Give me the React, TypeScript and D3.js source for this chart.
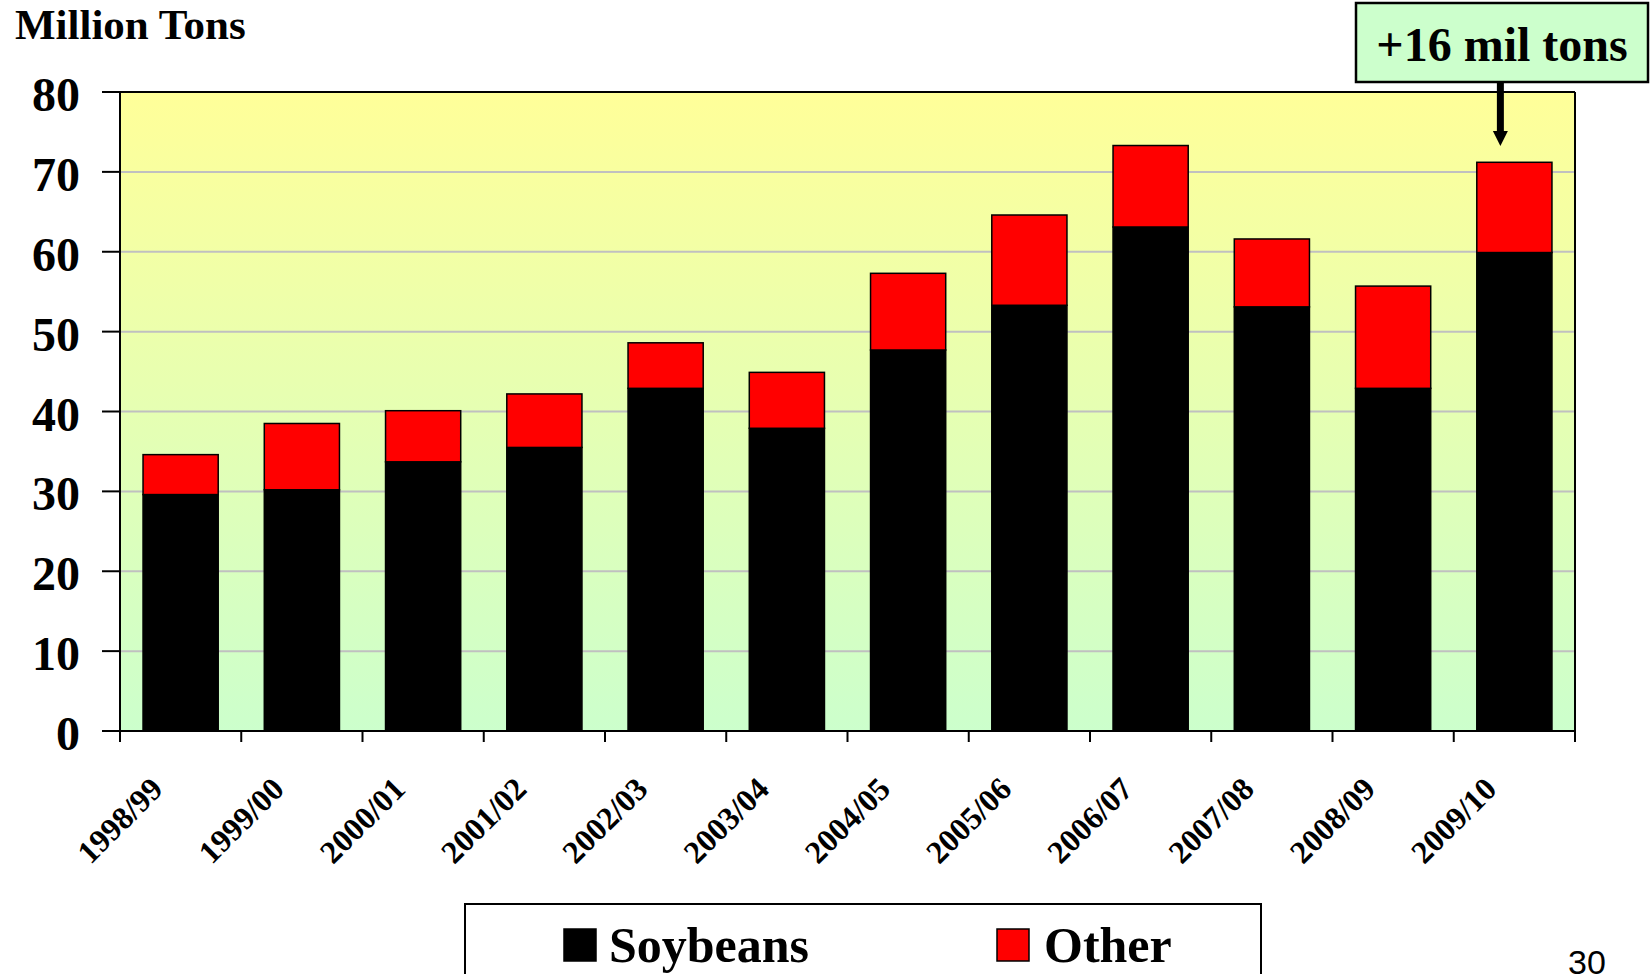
import { scaleBand, scaleLinear, range } from "d3";

const seasons = [
  "1998/99", "1999/00", "2000/01", "2001/02", "2002/03", "2003/04",
  "2004/05", "2005/06", "2006/07", "2007/08", "2008/09", "2009/10",
];
const soybeans = [29.6, 30.2, 33.7, 35.5, 42.9, 37.9, 47.7, 53.3, 63.1, 53.1, 42.9, 59.9];
const other = [5.0, 8.3, 6.4, 6.7, 5.7, 7.0, 9.6, 11.3, 10.2, 8.5, 12.8, 11.3];
const yTicks = [0, 10, 20, 30, 40, 50, 60, 70, 80];

const W = 1651;
const H = 974;
const left = 120, right = 1575, top = 92, bottom = 731;
const serif = "'Liberation Serif', 'Times New Roman', serif";

export default function App() {
  const x = scaleBand<string>().domain(seasons).range([left, right]).paddingInner(0.38).paddingOuter(0.19);
  const y = scaleLinear().domain([0, 80]).range([bottom, top]);
  const step = x.step();
  const bounds = range(seasons.length + 1).map((i) => left + i * step);

  const lastX = (x(seasons[seasons.length - 1]) ?? 0) + x.bandwidth() / 2 - 14;

  return (
    <svg width={W} height={H} style={{ position: "absolute", left: 0, top: 0, display: "block" }}>
      <defs>
        <linearGradient id="bg" x1="0" y1="0" x2="0" y2="1">
          <stop offset="0" stopColor="#FFFF99" />
          <stop offset="1" stopColor="#CCFFCC" />
        </linearGradient>
      </defs>
      <rect width={W} height={H} fill="#fff" />

      <text x={15} y={39} fontFamily={serif} fontWeight="bold" fontSize={43}>Million Tons</text>

      {/* plot area */}
      <rect x={left} y={top} width={right - left} height={bottom - top} fill="url(#bg)" />
      {yTicks.slice(1, -1).map((t) => (
        <line key={t} x1={left} x2={right} y1={y(t)} y2={y(t)} stroke="#C0C0C0" strokeWidth={2} />
      ))}

      {/* bars */}
      {seasons.map((s, i) => {
        const bx = x(s) ?? 0;
        const bw = x.bandwidth();
        return (
          <g key={s}>
            <rect x={bx} y={y(soybeans[i])} width={bw} height={y(0) - y(soybeans[i])}
              fill="#000" stroke="#000" strokeWidth={1.5} />
            <rect x={bx} y={y(soybeans[i] + other[i])} width={bw} height={y(soybeans[i]) - y(soybeans[i] + other[i])}
              fill="#FF0000" stroke="#000" strokeWidth={1.5} />
          </g>
        );
      })}

      {/* plot border */}
      <line x1={left} x2={right} y1={top} y2={top} stroke="#000" strokeWidth={2} />
      <line x1={right} x2={right} y1={top} y2={bottom} stroke="#000" strokeWidth={2} />
      <line x1={left} x2={left} y1={top} y2={bottom} stroke="#000" strokeWidth={2} />

      {/* y axis */}
      {yTicks.map((t) => (
        <g key={t}>
          <line x1={102} x2={left} y1={y(t)} y2={y(t)} stroke="#000" strokeWidth={2} />
          <text x={80} y={y(t) + 19} textAnchor="end" fontFamily={serif} fontWeight="bold" fontSize={48}>{t}</text>
        </g>
      ))}

      {/* x axis */}
      <line x1={102} x2={right} y1={bottom} y2={bottom} stroke="#000" strokeWidth={2} />
      {bounds.map((bx, i) => (
        <line key={i} x1={bx} x2={bx} y1={bottom} y2={bottom + 11} stroke="#000" strokeWidth={2} />
      ))}
      {seasons.map((s) => {
        const cx = (x(s) ?? 0) + x.bandwidth() / 2 - 16;
        const cy = bottom + 60;
        return (
          <text key={s} x={cx} y={cy} transform={`rotate(-45 ${cx} ${cy})`} textAnchor="end"
            fontFamily={serif} fontWeight="bold" fontSize={32}>{s}</text>
        );
      })}

      {/* annotation */}
      <rect x={1356} y={3} width={292} height={79} fill="#CCFFCC" stroke="#000" strokeWidth={2.5} />
      <text x={1502} y={61} textAnchor="middle" fontFamily={serif} fontWeight="bold" fontSize={48}>+16 mil tons</text>
      <line x1={lastX} x2={lastX} y1={82} y2={133} stroke="#000" strokeWidth={7} />
      <path d={`M${lastX - 7.5},131 L${lastX + 7.5},131 L${lastX},146 Z`} fill="#000" />

      {/* legend */}
      <rect x={465} y={904} width={796} height={90} fill="#fff" stroke="#000" strokeWidth={2} />
      <rect x={564} y={929} width={32} height={32} fill="#000" stroke="#000" strokeWidth={1.5} />
      <text x={609} y={962} fontFamily={serif} fontWeight="bold" fontSize={50}>Soybeans</text>
      <rect x={997} y={929} width={32} height={32} fill="#FF0000" stroke="#000" strokeWidth={1.5} />
      <text x={1044} y={962} fontFamily={serif} fontWeight="bold" fontSize={50}>Other</text>

      <text x={1568} y={974} fontFamily="'Liberation Sans', Arial, sans-serif" fontSize={34}>30</text>
    </svg>
  );
}
